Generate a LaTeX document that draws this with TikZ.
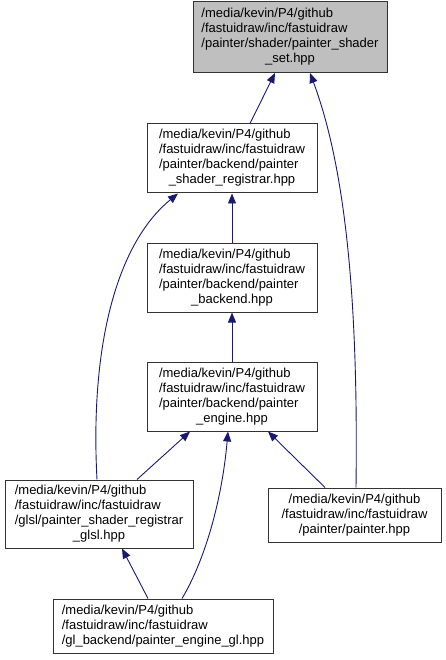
\documentclass[tikz,border=0pt]{standalone}
\usepackage{fontspec}
\setmainfont{Liberation Sans}
\usetikzlibrary{arrows.meta}
\definecolor{edgeblue}{HTML}{191970}
\definecolor{boxgray}{HTML}{BFBFBF}
\tikzset{
  filebox/.style={draw=black!80, line width=1pt, fill=white, inner sep=0pt,
    font=\fontsize{13}{15}\selectfont, text=black},
  edge/.style={draw=edgeblue, line width=0.9pt, -{Triangle[length=10pt,width=8pt]}},
}
\newcommand{\lastc}[1]{\multicolumn{1}{@{}c@{}}{#1}}
\begin{document}
\begin{tikzpicture}[x=1pt,y=-1pt]
\useasboundingbox (0,0) rectangle (445,660);
\node[filebox, fill=boxgray, minimum width=194pt, minimum height=71pt] (top) at (290,37)
  {\begin{tabular}{@{}l@{}}/media/kevin/P4/github\\/fastuidraw/inc/fastuidraw\\/painter/shader/painter\_shader\\\lastc{\_set.hpp}\end{tabular}};
\node[filebox, minimum width=170pt, minimum height=69pt] (reg) at (232,158.5)
  {\begin{tabular}{@{}l@{}}/media/kevin/P4/github\\/fastuidraw/inc/fastuidraw\\/painter/backend/painter\\\lastc{\_shader\_registrar.hpp}\end{tabular}};
\node[filebox, minimum width=170pt, minimum height=69pt] (backend) at (232,277.5)
  {\begin{tabular}{@{}l@{}}/media/kevin/P4/github\\/fastuidraw/inc/fastuidraw\\/painter/backend/painter\\\lastc{\_backend.hpp}\end{tabular}};
\node[filebox, minimum width=170pt, minimum height=69pt] (engine) at (232,396.5)
  {\begin{tabular}{@{}l@{}}/media/kevin/P4/github\\/fastuidraw/inc/fastuidraw\\/painter/backend/painter\\\lastc{\_engine.hpp}\end{tabular}};
\node[filebox, minimum width=188pt, minimum height=68pt] (glsl) at (99,514)
  {\begin{tabular}{@{}l@{}}/media/kevin/P4/github\\/fastuidraw/inc/fastuidraw\\/glsl/painter\_shader\_registrar\\\lastc{\_glsl.hpp}\end{tabular}};
\node[filebox, minimum width=173pt, minimum height=54pt] (painter) at (354.5,515)
  {\begin{tabular}{@{}c@{}}/media/kevin/P4/github\\/fastuidraw/inc/fastuidraw\\/painter/painter.hpp\end{tabular}};
\node[filebox, minimum width=220pt, minimum height=54pt] (gl) at (163,626)
  {\begin{tabular}{@{}l@{}}/media/kevin/P4/github\\/fastuidraw/inc/fastuidraw\\/gl\_backend/painter\_engine\_gl.hpp\end{tabular}};
% edges
\draw[edge] ([xshift=18pt]reg.north) -- ([xshift=-15pt]top.south);
\draw[edge] ([xshift=1.5pt]painter.north) .. controls (358,330) and (350,180) .. ([xshift=20pt]top.south);
\draw[edge] (backend.north) -- (reg.south);
\draw[edge] ([xshift=-2pt]glsl.north) .. controls (90,350) and (115,245) .. ([xshift=-54pt]reg.south);
\draw[edge] (engine.north) -- (backend.south);
\draw[edge] ([xshift=38pt]glsl.north) -- ([xshift=-42pt]engine.south);
\draw[edge] ([xshift=19pt]gl.north) .. controls (205,560) and (222,500) .. ([xshift=-4pt]engine.south);
\draw[edge] ([xshift=-29.5pt]painter.north) -- ([xshift=36pt]engine.south);
\draw[edge] ([xshift=-15pt]gl.north) -- ([xshift=23pt]glsl.south);
\end{tikzpicture}
\end{document}
